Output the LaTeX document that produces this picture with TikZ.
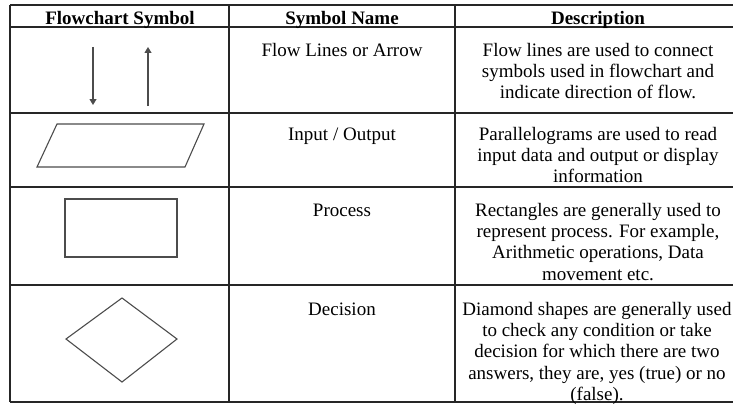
\documentclass[tikz,border=0pt]{standalone}
\usepackage{fontspec}
\setmainfont{Liberation Serif}
\usetikzlibrary{arrows.meta}
\newcommand\st{\rule{0pt}{15pt}}
\begin{document}
\begin{tikzpicture}[x=1pt,y=-1pt,
  gridline/.style={line width=1.2pt, black!85},
  shp/.style={line width=1.1pt, black!70},
  txt/.style={anchor=north, inner sep=0pt, align=center, font=\fontsize{19}{21.3}\selectfont},
  hdr/.style={txt, font=\fontsize{19}{21.3}\selectfont\bfseries},
  arr/.style={shp, -{Triangle[width=7pt,length=6pt]}}]
\useasboundingbox (0,0) rectangle (733,404);
% table grid
\foreach \yy in {5,27,113,187,285,402} \draw[gridline] (10,\yy) -- (733,\yy);
\foreach \xx in {10,229,455} \draw[gridline] (\xx,5) -- (\xx,402);
% header
\node[hdr] (h1) at (120,9) {\st Flowchart Symbol};
\node[hdr] (h2) at (342,9) {\st Symbol Name};
\node[hdr] (h3) at (598,9) {\st Description};
% row 1
\coordinate (d1) at (93,47);
\coordinate (d2) at (93,105);
\coordinate (u1) at (148,106);
\coordinate (u2) at (148,47);
\draw[arr] (d1) -- (d2);
\draw[arr] (u1) -- (u2);
\node[txt] (n1) at (342,41) {\st Flow Lines or Arrow};
\node[txt] (t1) at (598,41) {\st Flow lines are used to connect\\symbols used in flowchart and\\indicate direction of flow.};
% row 2
\draw[shp] (57,124) -- (204,124) -- (185,167) -- (37,167) -- cycle;
\node[txt] (n2) at (342,125) {\st Input / Output};
\node[txt] (t2) at (598,125) {\st Parallelograms are used to read\\input data and output or display\\information};
% row 3
\draw[shp] (65,199) rectangle (177,257);
\node[txt] (n3) at (342,201) {\st Process};
\node[txt] (t3) at (598,201) {\st Rectangles are generally used to\\represent process. For example,\\Arithmetic operations, Data\\movement etc.};
% row 4
\draw[shp] (122,298) -- (177,339) -- (122,382) -- (66,339) -- cycle;
\node[txt] (n4) at (342,300) {\st Decision};
\node[txt] (t4) at (597,300) {\st Diamond shapes are generally used\\to check any condition or take\\decision for which there are two\\answers, they are, yes (true) or no\\(false).};
\end{tikzpicture}
\end{document}
